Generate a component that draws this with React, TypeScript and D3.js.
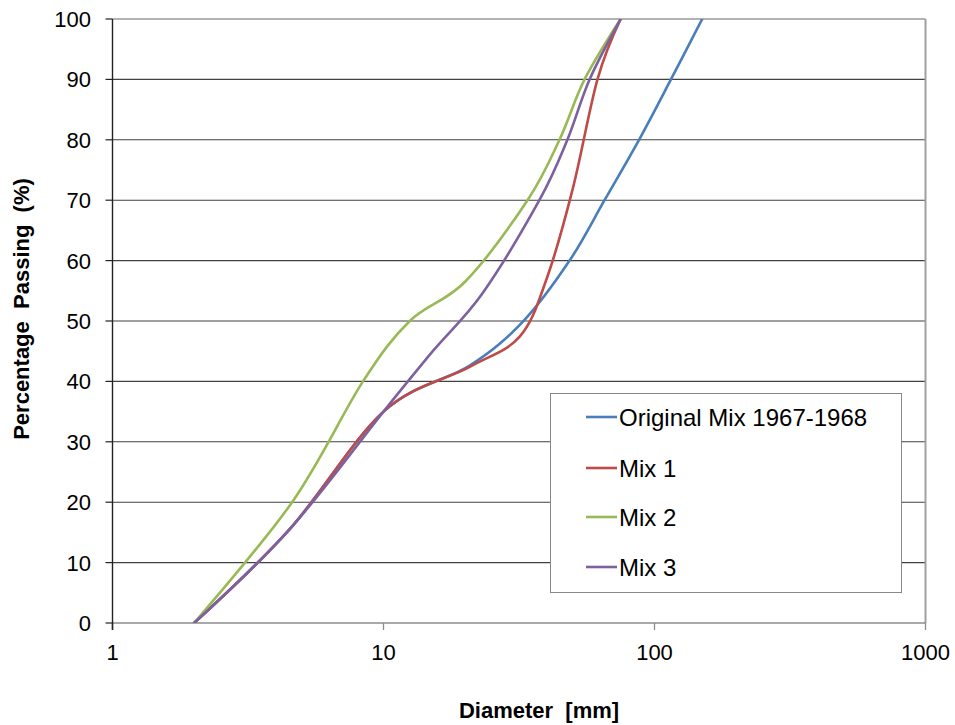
import React from "react";
import * as d3 from "d3";

// Grading curves: sieve diameter (mm) against percentage passing
const originalDiam = [2, 4.5, 10, 20.8, 32.7, 48.6, 65.4, 87.7, 115, 150];
const originalPass = [0, 15.5, 35, 42.6, 49.9, 60, 70, 80, 90, 100];

const mix1Diam = [2, 4.5, 10, 20.8, 31.8, 40, 50, 61.6, 75];
const mix1Pass = [0, 15.5, 35, 42.4, 47.4, 57, 72, 90, 100];

const mix2Diam = [2, 4.6, 8.4, 12.5, 20, 34, 44.6, 55.2, 75];
const mix2Pass = [0, 20, 40, 50, 56.5, 70, 80, 90, 100];

const mix3Diam = [2, 4.5, 10, 15.2, 23.2, 37.6, 47.7, 57.6, 75];
const mix3Pass = [0, 15.5, 35, 45, 54.6, 70, 80, 90, 100];

const seriesNames = ["Original Mix 1967-1968", "Mix 1", "Mix 2", "Mix 3"];
const seriesColors = ["#4A7EBB", "#BE4B48", "#98B954", "#7D60A0"];

const xTicks = [1, 10, 100, 1000];
const yTicks = [0, 10, 20, 30, 40, 50, 60, 70, 80, 90, 100];

const W = 955;
const H = 725;
const left = 112.5;
const right = 925.5;
const top = 19;
const bottom = 623;

export default function App() {
  const x = d3.scaleLog().domain([1, 1000]).range([left, right]);
  const y = d3.scaleLinear().domain([0, 100]).range([bottom, top]);

  const series = [
    { name: seriesNames[0], color: seriesColors[0], d: originalDiam, p: originalPass },
    { name: seriesNames[1], color: seriesColors[1], d: mix1Diam, p: mix1Pass },
    { name: seriesNames[2], color: seriesColors[2], d: mix2Diam, p: mix2Pass },
    { name: seriesNames[3], color: seriesColors[3], d: mix3Diam, p: mix3Pass },
  ];

  const line = d3
    .line<[number, number]>()
    .x((v) => x(v[0]))
    .y((v) => y(v[1]))
    .curve(d3.curveCardinal.tension(0));

  const font = "'Liberation Sans', Arial, sans-serif";
  const legendRows = [417, 468, 517, 567];

  return (
    <svg
      width={W}
      height={H}
      style={{ position: "absolute", left: 0, top: 0, background: "#fff" }}
      fontFamily={font}
    >
      <defs>
        <clipPath id="plotClip">
          <rect x={left} y={top} width={right - left} height={bottom - top} />
        </clipPath>
      </defs>
      <rect x={0} y={0} width={W} height={H} fill="#fff" />

      {/* horizontal gridlines */}
      {yTicks
        .filter((t) => t > 0 && t < 100)
        .map((t) => (
          <line key={t} x1={left} x2={right} y1={y(t)} y2={y(t)} stroke="#404040" strokeWidth={1.1} />
        ))}

      {/* plot border (top, right) */}
      <line x1={left} x2={right} y1={top} y2={top} stroke="#999" strokeWidth={1.6} />
      <line x1={right} x2={right} y1={top} y2={bottom} stroke="#a0a0a0" strokeWidth={2} />

      {/* x axis */}
      <line x1={left} x2={right} y1={bottom} y2={bottom} stroke="#8c8c8c" strokeWidth={1.6} />
      {xTicks.map((t) => (
        <g key={t}>
          <line x1={x(t)} x2={x(t)} y1={bottom} y2={bottom + 7} stroke={t === 1 ? "#222" : "#8c8c8c"} strokeWidth={1.3} />
          <text x={x(t)} y={660} textAnchor="middle" fontSize={22} fill="#000">
            {t}
          </text>
        </g>
      ))}

      {/* y axis */}
      <line x1={left} x2={left} y1={top} y2={bottom + 7} stroke="#222" strokeWidth={1.4} />
      {yTicks.map((t) => (
        <g key={t}>
          <line x1={left - 7} x2={left} y1={y(t)} y2={y(t)} stroke="#222" strokeWidth={1.2} />
          <text x={91} y={y(t) + 8} textAnchor="end" fontSize={22} fill="#000">
            {t}
          </text>
        </g>
      ))}

      {/* series */}
      <g clipPath="url(#plotClip)">
        {series.map((s) => (
          <path
            key={s.name}
            d={line(s.d.map((v, i) => [v, s.p[i]] as [number, number])) || ""}
            fill="none"
            stroke={s.color}
            strokeWidth={2.6}
            strokeLinejoin="round"
            strokeLinecap="round"
          />
        ))}
      </g>

      {/* legend */}
      <rect x={550.5} y={393.5} width={351} height={199} fill="#fff" stroke="#888" strokeWidth={1} />
      {series.map((s, i) => (
        <g key={s.name}>
          <line x1={586} x2={617} y1={legendRows[i]} y2={legendRows[i]} stroke={s.color} strokeWidth={2.6} />
          <text x={619} y={legendRows[i] + 8.5} fontSize={24} fill="#000">
            {s.name}
          </text>
        </g>
      ))}

      {/* axis titles */}
      <text
        x={539}
        y={718}
        textAnchor="middle"
        fontSize={22}
        fontWeight="bold"
        fill="#000"
        style={{ whiteSpace: "pre" }}
      >
        {"Diameter  [mm]"}
      </text>
      <text
        transform={`translate(29,309) rotate(-90)`}
        textAnchor="middle"
        fontSize={22}
        fontWeight="bold"
        fill="#000"
        style={{ whiteSpace: "pre" }}
      >
        {"Percentage  Passing  (%)"}
      </text>
    </svg>
  );
}
